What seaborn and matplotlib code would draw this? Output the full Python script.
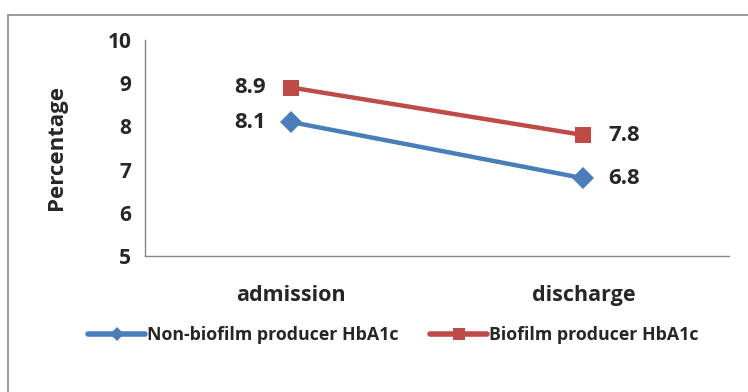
import pandas as pd
import seaborn as sns
import matplotlib.pyplot as plt
from matplotlib.patches import Rectangle
from matplotlib.lines import Line2D

# data
stages = ['admission', 'discharge']
non_biofilm = [8.1, 6.8]
biofilm = [8.9, 7.8]
series_names = ['Non-biofilm producer HbA1c', 'Biofilm producer HbA1c']

df = pd.DataFrame({
    'Stage': stages * 2,
    'Value': non_biofilm + biofilm,
    'Group': [series_names[0]] * 2 + [series_names[1]] * 2,
})

sns.set_theme(style='white')
plt.rcParams['font.family'] = ['Open Sans', 'DejaVu Sans']
plt.rcParams['font.weight'] = 'bold'

fig = plt.figure(figsize=(7.48, 3.92), dpi=100)
ax = fig.add_axes([0.194, 0.347, 0.781, 0.551])

colors = {series_names[0]: '#4A7EBB', series_names[1]: '#BE4B48'}
markers = {series_names[0]: 'D', series_names[1]: 's'}
sns.lineplot(data=df, x='Stage', y='Value', hue='Group', style='Group',
             markers=markers, dashes=False, palette=colors, linewidth=3.2,
             markersize=11, markeredgewidth=0, ax=ax, legend=False)

# data labels
for vals in (non_biofilm, biofilm):
    for i, v in enumerate(vals):
        off = -0.085 if i == 0 else 0.085
        ax.text(i + off, v, f'{v}', ha='right' if i == 0 else 'left', va='center',
                fontsize=16, fontweight='bold')

ax.set_xlim(-0.5, 1.5)
ax.set_ylim(5, 10)
ax.set_yticks(range(5, 11))
ax.set_xticks([-0.5, 0.5, 1.5])
ax.set_xticklabels([])
ax.set_xticks([0, 1], minor=True)
ax.set_xticklabels(stages, minor=True, fontsize=15.5, fontweight='bold')
ax.tick_params(axis='x', which='minor', length=0, pad=21)
ax.tick_params(axis='x', which='major', length=6, color='#878787', width=1, direction='out')
ax.tick_params(axis='y', length=6, color='#878787', width=1, direction='out', labelsize=15, pad=4)
for lab in ax.get_yticklabels():
    lab.set_fontweight('bold')
ax.set_xlabel('')
ax.set_ylabel('Percentage', fontsize=16, fontweight='bold')
ax.yaxis.set_label_coords(-0.134, 0.5)
for s in ['top', 'right']:
    ax.spines[s].set_visible(False)
for s in ['left', 'bottom']:
    ax.spines[s].set_color('#878787')
    ax.spines[s].set_linewidth(1)

handles = [Line2D([], [], color=colors[n], marker=markers[n], linewidth=4,
                  markersize=7 if markers[n] == 'D' else 8, markeredgewidth=0)
           for n in series_names]
ax.legend(handles, series_names, loc='center', bbox_to_anchor=(0.425, -0.366),
          bbox_transform=ax.transAxes, ncol=2, frameon=False,
          handlelength=3.2, handletextpad=0.1, columnspacing=1.8,
          prop={'weight': 'bold', 'size': 12.8})

# outer chart frame
fig.patches.append(Rectangle((8 / 748, -0.1), 1.2, 1 - 15 / 392 + 0.1, transform=fig.transFigure,
                             fill=False, edgecolor='#878787', linewidth=1.2))

fig.savefig('out.png', dpi=100)
